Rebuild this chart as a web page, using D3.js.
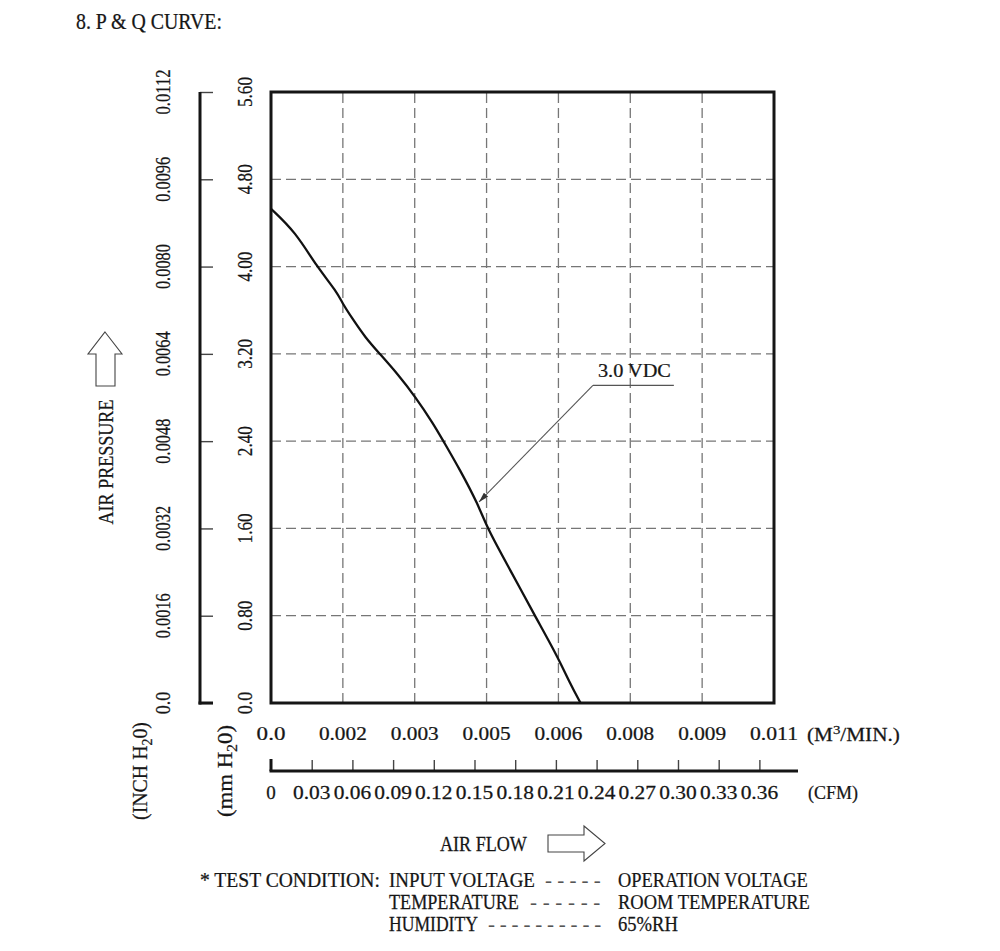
<!DOCTYPE html>
<html>
<head>
<meta charset="utf-8">
<script src="https://cdn.jsdelivr.net/npm/d3@7"></script>
<style>
  html, body { margin: 0; padding: 0; background: #fff; }
  svg { display: block; }
  text { font-family: "Liberation Serif", "DejaVu Serif", serif; fill: #161616; stroke: #161616; stroke-width: 0.25; }
</style>
</head>
<body>
<svg id="chart" width="1000" height="951"></svg>
<script>
// ---------------- DATA ----------------
// Air flow in M^3/MIN and static pressure in mm H2O
const flowM3 = [0.00000, 0.00053, 0.00100, 0.00144, 0.00158, 0.00177, 0.00206, 0.00238,
                0.00278, 0.00315, 0.00355, 0.00377, 0.00413, 0.00453, 0.00473, 0.00523,
                0.00577, 0.00625, 0.00654, 0.00677];
const pressMM = [4.53, 4.32, 4.00, 3.77, 3.65, 3.53, 3.35, 3.20,
                 3.01, 2.81, 2.56, 2.40, 2.14, 1.82, 1.60, 1.22,
                 0.80, 0.44, 0.18, 0.00];

const xTickLabels = ["0.0", "0.002", "0.003", "0.005", "0.006", "0.008", "0.009", "0.011"];
const mmTickLabels = ["0.0", "0.80", "1.60", "2.40", "3.20", "4.00", "4.80", "5.60"];
const inchTickLabels = ["0.0", "0.0016", "0.0032", "0.0048", "0.0064", "0.0080", "0.0096", "0.0112"];
const cfmTickLabels = ["0", "0.03", "0.06", "0.09", "0.12", "0.15", "0.18", "0.21",
                       "0.24", "0.27", "0.30", "0.33", "0.36"];
const seriesName = "3.0 VDC";
const xMaxM3 = 0.011;
const yMaxMM = 5.6;
const cfmPerM3 = 35.3147;

const conditionRows = [
  ["INPUT VOLTAGE", "-----", "OPERATION VOLTAGE"],
  ["TEMPERATURE", "------", "ROOM TEMPERATURE"],
  ["HUMIDITY", "----------", "65%RH"]
];

// ---------------- LAYOUT ----------------
const svg = d3.select("#chart");
const plot = { left: 271, right: 774, top: 92, bottom: 703 };

const x = d3.scaleLinear().domain([0, xMaxM3]).range([plot.left, plot.right]);
const y = d3.scaleLinear().domain([0, yMaxMM]).range([plot.bottom, plot.top]);
const cfm = d3.scaleLinear().domain([0, xMaxM3 * cfmPerM3]).range([plot.left, 798]);

const xTickVals = xTickLabels.map((_, i) => i * xMaxM3 / (xTickLabels.length - 1));
const yTickVals = mmTickLabels.map((_, i) => i * yMaxMM / (mmTickLabels.length - 1));
const cfmTickVals = cfmTickLabels.map((_, i) => i * 0.03);

// text helper: text fitted to a target length (squeezes / stretches horizontally,
// or, for dash leaders, spreads the characters apart)
function fitText(parent, str, px, py, opts) {
  const o = Object.assign({ size: 19, anchor: "middle", rotate: 0, len: null, spread: false }, opts || {});
  const g = parent.append("g");
  const t = g.append("text")
    .attr("font-size", o.size)
    .attr("text-anchor", o.anchor);
  if (Array.isArray(str)) {
    str.forEach(part => {
      const ts = t.append("tspan").text(part.t);
      if (part.sub) ts.attr("font-size", o.size * 0.7).attr("dy", o.size * 0.22);
      if (part.sup) ts.attr("font-size", o.size * 0.7).attr("dy", -o.size * 0.35);
      if (part.back) ts.attr("dy", -o.size * 0.22);
      if (part.down) ts.attr("dy", o.size * 0.35);
    });
  } else {
    t.text(str);
  }
  let k = 1;
  if (o.len) {
    const w = t.node().getComputedTextLength();
    if (o.spread) {
      const n = String(str).length;
      t.attr("letter-spacing", (o.len - w) / n);
    } else if (w > 0) {
      k = o.len / w;
    }
  }
  g.attr("transform", `translate(${px},${py}) rotate(${o.rotate}) scale(${k},1)`);
  return g;
}

// ---------------- TITLE ----------------
fitText(svg, "8. P & Q CURVE:", 76, 29, { size: 23, anchor: "start", len: 146 });

// ---------------- GRID ----------------
const grid = svg.append("g");
grid.selectAll("line.v")
  .data(xTickVals.slice(1, -1))
  .join("line")
  .attr("x1", d => x(d)).attr("x2", d => x(d))
  .attr("y1", y(0)).attr("y2", y(yMaxMM))
  .attr("stroke", "#767676").attr("stroke-width", 1.3)
  .attr("stroke-dasharray", "10,5");
grid.selectAll("line.h")
  .data(yTickVals.slice(1, -1))
  .join("line")
  .attr("x1", x(0)).attr("x2", x(xMaxM3))
  .attr("y1", d => y(d)).attr("y2", d => y(d))
  .attr("stroke", "#767676").attr("stroke-width", 1.3)
  .attr("stroke-dasharray", "10,5");

// plot frame
svg.append("rect")
  .attr("x", x(0)).attr("y", y(yMaxMM))
  .attr("width", x(xMaxM3) - x(0)).attr("height", y(0) - y(yMaxMM))
  .attr("fill", "none").attr("stroke", "#151515").attr("stroke-width", 3);

// ---------------- CURVE ----------------
const pts = flowM3.map((f, i) => [f, pressMM[i]]);
svg.append("path")
  .datum(pts)
  .attr("fill", "none")
  .attr("stroke", "#111")
  .attr("stroke-width", 2.3)
  .attr("d", d3.line().x(d => x(d[0])).y(d => y(d[1])).curve(d3.curveBasis));

// ---------------- ANNOTATION ----------------
const defs = svg.append("defs");
defs.append("marker")
  .attr("id", "arrowhead")
  .attr("viewBox", "0 0 10 6")
  .attr("refX", 10).attr("refY", 3)
  .attr("markerWidth", 11).attr("markerHeight", 6)
  .attr("markerUnits", "userSpaceOnUse")
  .attr("orient", "auto")
  .append("path").attr("d", "M0,0 L10,3 L0,6 Z").attr("fill", "#333");

const annot = { tip: [0.00455, 1.843], elbow: [0.00704, 2.912], end: [0.00881, 2.912], text: [0.00715, 2.99] };
svg.append("line")
  .attr("x1", x(annot.elbow[0])).attr("y1", y(annot.elbow[1]))
  .attr("x2", x(annot.end[0])).attr("y2", y(annot.end[1]))
  .attr("stroke", "#555").attr("stroke-width", 1.3);
svg.append("line")
  .attr("x1", x(annot.elbow[0])).attr("y1", y(annot.elbow[1]))
  .attr("x2", x(annot.tip[0])).attr("y2", y(annot.tip[1]))
  .attr("stroke", "#555").attr("stroke-width", 1.1)
  .attr("marker-end", "url(#arrowhead)");
fitText(svg, seriesName, x(annot.text[0]), y(annot.text[1]), { size: 18.5, anchor: "start", len: 73 });

// ---------------- LEFT (OUTER) AXIS ----------------
const leftAxisX = 200;
svg.append("g")
  .attr("transform", `translate(${leftAxisX},0)`)
  .call(d3.axisRight(y).tickValues(yTickVals).tickSize(13).tickFormat(""))
  .call(g => g.select(".domain").remove())
  .call(g => g.selectAll(".tick line").attr("stroke", "#444").attr("stroke-width", 1.4));
svg.append("line")
  .attr("x1", leftAxisX).attr("x2", leftAxisX)
  .attr("y1", y(yMaxMM)).attr("y2", y(0) + 1.5)
  .attr("stroke", "#151515").attr("stroke-width", 3);
svg.append("line")
  .attr("x1", leftAxisX - 1.5).attr("x2", leftAxisX + 13)
  .attr("y1", y(0)).attr("y2", y(0))
  .attr("stroke", "#151515").attr("stroke-width", 3);

// left tick labels (rotated)
yTickVals.forEach((v, i) => {
  fitText(svg, inchTickLabels[i], 170, y(v), { size: 22, rotate: -90, len: inchTickLabels[i].length * 7.5 });
  fitText(svg, mmTickLabels[i], 252, y(v), { size: 22, rotate: -90, len: mmTickLabels[i].length * 7.5 });
});

// rotated axis titles
fitText(svg, "AIR PRESSURE", 113, 462, { size: 22, rotate: -90, len: 125 });
fitText(svg, [{ t: "(INCH H" }, { t: "2", sub: true }, { t: "0)", back: true }], 147, 771,
  { size: 22, rotate: -90, len: 98 });
fitText(svg, [{ t: "(mm H" }, { t: "2", sub: true }, { t: "0)", back: true }], 232, 771,
  { size: 22, rotate: -90, len: 92 });

// up arrow (hollow)
svg.append("path")
  .attr("d", "M105,332 L122,354 L115,354 L115,386 L96,386 L96,354 L88,354 Z")
  .attr("fill", "none").attr("stroke", "#444").attr("stroke-width", 1.1);

// ---------------- BOTTOM M3/MIN LABELS ----------------
xTickVals.forEach((v, i) => {
  fitText(svg, xTickLabels[i], x(v), 740, { size: 19, len: xTickLabels[i].length * 9.6 });
});
fitText(svg, [{ t: "(M" }, { t: "3", sup: true }, { t: "/MIN.)", down: true }], 807, 741,
  { size: 19, anchor: "start", len: 93 });

// ---------------- CFM AXIS ----------------
const cfmY = 771;
svg.append("g")
  .attr("transform", `translate(0,${cfmY})`)
  .call(d3.axisTop(cfm).tickValues(cfmTickVals.slice(1)).tickSize(11).tickFormat(""))
  .call(g => g.select(".domain").remove())
  .call(g => g.selectAll(".tick line").attr("stroke", "#444").attr("stroke-width", 1.4));
svg.append("line")
  .attr("x1", cfm(0) - 1.5).attr("x2", cfm.range()[1])
  .attr("y1", cfmY).attr("y2", cfmY)
  .attr("stroke", "#151515").attr("stroke-width", 3);
svg.append("line")
  .attr("x1", cfm(0)).attr("x2", cfm(0))
  .attr("y1", cfmY - 12).attr("y2", cfmY)
  .attr("stroke", "#151515").attr("stroke-width", 3);

cfmTickVals.forEach((v, i) => {
  const s = cfmTickLabels[i];
  fitText(svg, s, cfm(v), 799, { size: 19, len: s.length === 1 ? 9.5 : 37.5 });
});
fitText(svg, "(CFM)", 808, 799, { size: 19, anchor: "start", len: 50 });

// ---------------- AIR FLOW ----------------
fitText(svg, "AIR FLOW", 440, 851, { size: 20, anchor: "start", len: 87 });
svg.append("path")
  .attr("d", "M548,835 L584,835 L584,826 L605,843.5 L584,861 L584,852 L548,852 Z")
  .attr("fill", "none").attr("stroke", "#444").attr("stroke-width", 1.1);

// ---------------- TEST CONDITION ----------------
fitText(svg, "* TEST CONDITION:", 200, 887, { size: 20, anchor: "start", len: 180 });
const rowY = [887, 909, 931];
const colLens = [[146, 61, 190], [130, 76, 192], [89, 118, 60]];
conditionRows.forEach((row, r) => {
  fitText(svg, row[0], 389, rowY[r], { size: 20, anchor: "start", len: colLens[r][0] });
  fitText(svg, row[1], 606 - colLens[r][1], rowY[r], { size: 21, anchor: "start", len: colLens[r][1], spread: true })
    .select("text").style("fill", "#555").style("stroke", "none");
  fitText(svg, row[2], 618, rowY[r], { size: 20, anchor: "start", len: colLens[r][2] });
});
</script>
</body>
</html>
